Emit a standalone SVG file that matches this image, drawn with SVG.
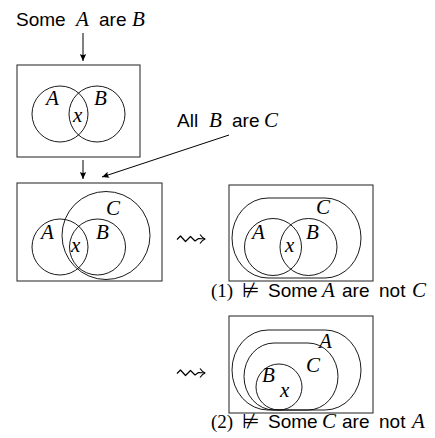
<svg xmlns="http://www.w3.org/2000/svg" width="435" height="438" viewBox="0 0 435 438">
<style>
.bg{fill:#ffffff}
.box{fill:none;stroke:#333;stroke-width:1.1}
.set{fill:none;stroke:#000;stroke-width:0.9}
.t{font-family:"Liberation Sans",Arial,sans-serif;font-size:19px;fill:#000}
.m{font-family:"Liberation Serif","Times New Roman",serif;font-style:italic;font-size:21px;fill:#000}
.r{font-family:"Liberation Serif","Times New Roman",serif;font-size:19px;fill:#000}
.s{font-family:"DejaVu Sans",sans-serif;font-size:20px;fill:#000}
.ln{fill:none;stroke:#000;stroke-width:1}
.sq{fill:none;stroke:#000;stroke-width:1.2;stroke-linejoin:round}
</style>
<defs>
<marker id="ah" markerWidth="10" markerHeight="8" viewBox="-8 -4 9 8" refX="0" refY="0" orient="auto" markerUnits="userSpaceOnUse">
<path d="M0,0 L-7,-3.2 Q-5,0 -7,3.2 Z" fill="#000"/>
</marker>
</defs>
<rect class="bg" x="0" y="0" width="435" height="438"/>

<g id="premise1">
<text class="t" x="16" y="26">Some</text>
<text class="m" x="76" y="26">A</text>
<text class="t" x="99" y="26">are</text>
<text class="m" x="132" y="26">B</text>
</g>

<g id="premise2">
<text class="t" x="177" y="127">All</text>
<text class="m" x="209" y="127">B</text>
<text class="t" x="232" y="127">are</text>
<text class="m" x="264" y="127">C</text>
</g>

<g id="diagram1">
<rect class="box" x="17" y="65" width="123" height="92"/>
<circle class="set" cx="60" cy="114" r="28"/>
<circle class="set" cx="97" cy="114" r="28"/>
<text class="m" x="46" y="105">A</text>
<text class="m" x="94" y="105">B</text>
<text class="m" x="73" y="122">x</text>
</g>

<g id="diagram2">
<rect class="box" x="17" y="183" width="145" height="98"/>
<circle class="set" cx="60" cy="247" r="28"/>
<circle class="set" cx="97.5" cy="247" r="28"/>
<circle class="set" cx="106" cy="235.5" r="44"/>
<text class="m" x="41" y="239">A</text>
<text class="m" x="96" y="239">B</text>
<text class="m" x="106" y="215">C</text>
<text class="m" x="71" y="252">x</text>
</g>

<g id="diagram3">
<rect class="box" x="229" y="185" width="144" height="96"/>
<rect class="set" x="232" y="198" width="129" height="80" rx="36" ry="40"/>
<circle class="set" cx="273" cy="247" r="28.5"/>
<circle class="set" cx="308.5" cy="247" r="28.5"/>
<text class="m" x="252" y="239">A</text>
<text class="m" x="306" y="239">B</text>
<text class="m" x="316" y="214">C</text>
<text class="m" x="285" y="252">x</text>
</g>

<g id="caption1">
<text class="r" x="211" y="297">(1)</text>
<text class="s" x="242" y="297">⊭</text>
<text class="t" x="268" y="297">Some</text>
<text class="m" x="322" y="297">A</text>
<text class="t" x="342" y="297">are</text>
<text class="t" x="379" y="297">not</text>
<text class="m" x="412" y="297">C</text>
</g>

<g id="diagram4">
<rect class="box" x="229" y="316" width="144" height="97"/>
<rect class="set" x="232" y="330" width="129" height="80" rx="36" ry="40"/>
<rect class="set" x="244" y="343" width="94" height="67" rx="30" ry="33.5"/>
<circle class="set" cx="279" cy="387" r="23"/>
<text class="m" x="319" y="348">A</text>
<text class="m" x="306" y="372">C</text>
<text class="m" x="262" y="382">B</text>
<text class="m" x="280" y="397">x</text>
</g>

<g id="caption2">
<text class="r" x="211" y="428">(2)</text>
<text class="s" x="242" y="428">⊭</text>
<text class="t" x="268" y="428">Some</text>
<text class="m" x="322" y="428">C</text>
<text class="t" x="342" y="428">are</text>
<text class="t" x="379" y="428">not</text>
<text class="m" x="412" y="428">A</text>
</g>

<g id="connectors">
<line class="ln" x1="83" y1="33" x2="83" y2="61" marker-end="url(#ah)"/>
<line class="ln" x1="83" y1="160" x2="83" y2="179" marker-end="url(#ah)"/>
<line class="ln" x1="229" y1="135" x2="102" y2="177" marker-end="url(#ah)"/>
<path class="sq" d="M177,239.5 L180.5,236 L185.5,241.5 L190.5,236.5 L195,241 L198.5,238.5 L205,239"/>
<path class="sq" d="M200,234.5 Q202.5,238 205,239 Q202.5,240 200,243.5"/>
<path class="sq" d="M177,373.5 L180.5,370 L185.5,375.5 L190.5,370.5 L195,375 L198.5,372.5 L205,373"/>
<path class="sq" d="M200,368.5 Q202.5,372 205,373 Q202.5,374 200,377.5"/>
</g>
</svg>
